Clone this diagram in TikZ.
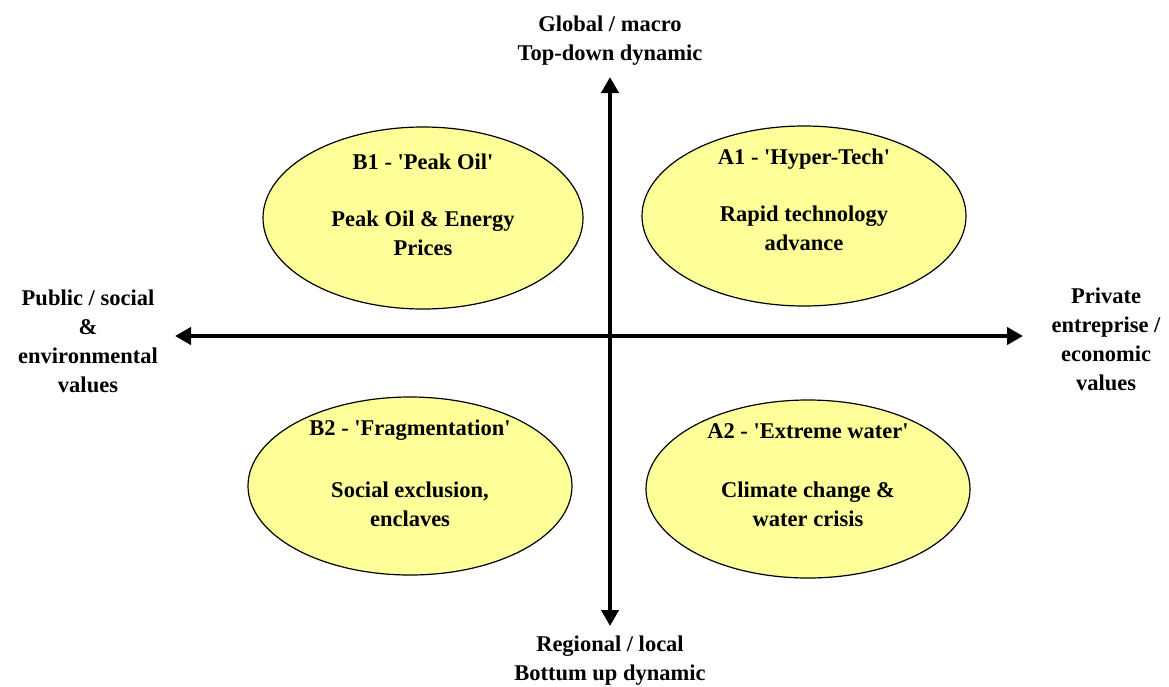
\documentclass[tikz,border=0pt]{standalone}
\usepackage{fontspec}
\setmainfont{Liberation Serif}
\usetikzlibrary{arrows.meta}
\definecolor{ellfill}{HTML}{FFFF99}
\newcommand{\sq}{\textquotesingle}
\begin{document}
\begin{tikzpicture}[x=1pt,y=-1pt,
  axis/.style={line width=4pt,{Triangle[length=16pt,width=17pt]}-{Triangle[length=16pt,width=17pt]}},
  lbl/.style={font=\bfseries\fontsize{22.5}{29}\selectfont,align=center,inner sep=0pt},
]
\useasboundingbox (0,0) rectangle (1169,686);
% ellipses
\draw[line width=1.2pt,fill=ellfill] (423,218) ellipse [x radius=160,y radius=91];
\draw[line width=1.2pt,fill=ellfill] (804,216) ellipse [x radius=162,y radius=90];
\draw[line width=1.2pt,fill=ellfill] (410,486) ellipse [x radius=162,y radius=89];
\draw[line width=1.2pt,fill=ellfill] (808,489) ellipse [x radius=162,y radius=89];
% axes
\coordinate (L) at (175,336);
\coordinate (R) at (1023,336);
\coordinate (T) at (610,77);
\coordinate (B) at (610,626);
\draw[axis] (L) -- (R);
\draw[axis] (T) -- (B);
% ellipse texts
\node[lbl] (b1t) at (423,162) {B1 - \sq Peak Oil\sq};
\node[lbl] (b1b) at (423,233) {Peak Oil \& Energy\\Prices};
\node[lbl] (a1t) at (804,159) {A1 - \sq Hyper-Tech\sq};
\node[lbl] (a1b) at (804,228) {Rapid technology\\advance};
\node[lbl] (b2t) at (410,430) {B2 - \sq Fragmentation\sq};
\node[lbl] (b2b) at (410,504) {Social exclusion,\\enclaves};
\node[lbl] (a2t) at (808,431) {A2 - \sq Extreme water\sq};
\node[lbl] (a2b) at (808,504) {Climate change \&\\water crisis};
% axis labels
\node[lbl] (top) at (610,41) {Global / macro\\Top-down dynamic};
\node[lbl] (bot) at (610,661) {Regional / local\\Bottum up dynamic};
\node[lbl] (left) at (88,341) {Public / social\\\&\\environmental\\values};
\node[lbl] (right) at (1106,339) {Private\\entreprise /\\economic\\values};
\end{tikzpicture}
\end{document}
